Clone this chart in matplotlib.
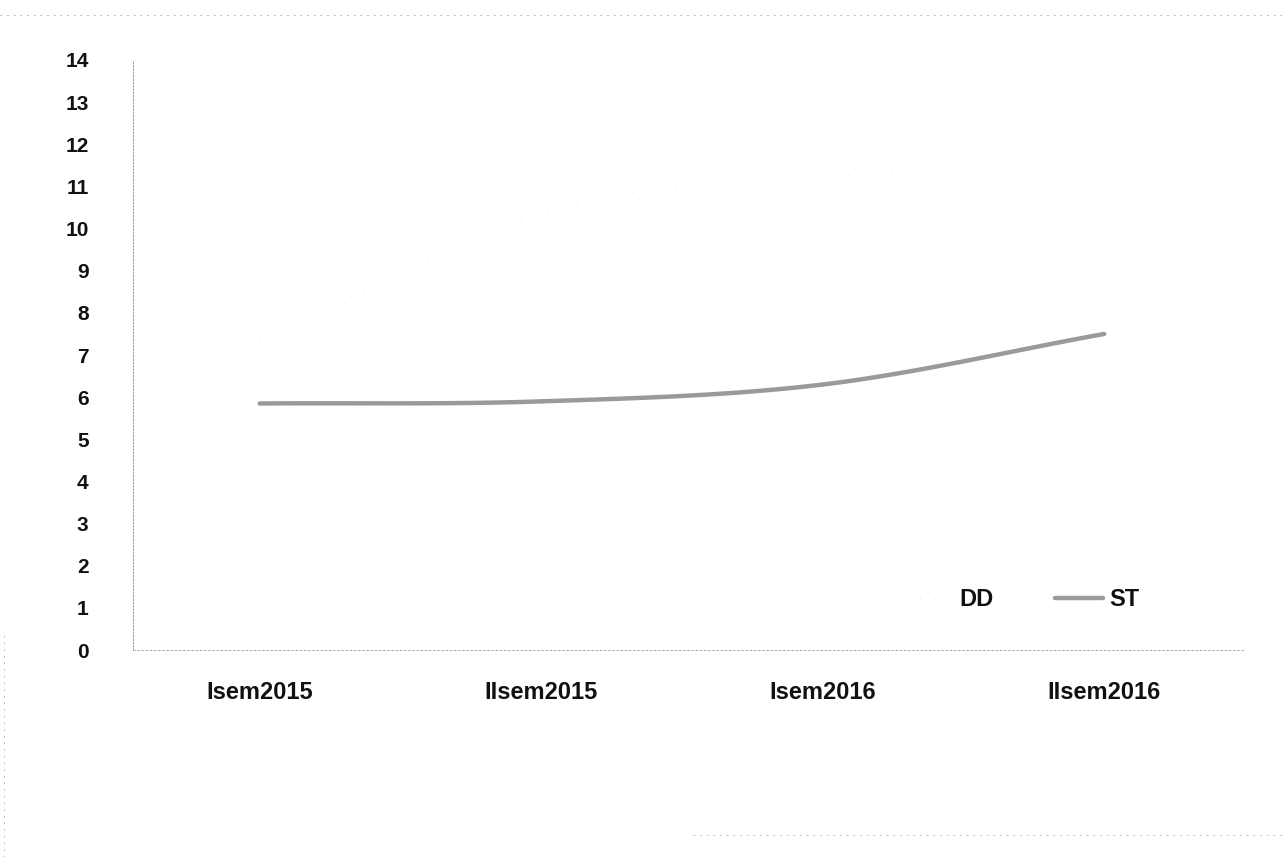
import numpy as np
import matplotlib.pyplot as plt
from matplotlib.lines import Line2D

# Data
categories = ['Isem2015', 'IIsem2015', 'Isem2016', 'IIsem2016']
dd_values = [7.3, 10.4, 11.2, 11.7]
st_values = [5.85, 5.9, 6.3, 7.5]


def smooth(y, n=40):
    # Catmull-Rom curve through the points (like Excel's smoothed line)
    y = np.asarray(y, dtype=float)
    x = np.arange(len(y), dtype=float)
    px = np.concatenate([[2 * x[0] - x[1]], x, [2 * x[-1] - x[-2]]])
    py = np.concatenate([[2 * y[0] - y[1]], y, [2 * y[-1] - y[-2]]])
    xs, ys = [], []
    for i in range(1, len(px) - 2):
        t = np.linspace(0, 1, n)
        for arr, out in ((px, xs), (py, ys)):
            p0, p1, p2, p3 = arr[i - 1], arr[i], arr[i + 1], arr[i + 2]
            out.append(0.5 * ((2 * p1) + (-p0 + p2) * t
                              + (2 * p0 - 5 * p1 + 4 * p2 - p3) * t ** 2
                              + (-p0 + 3 * p1 - 3 * p2 + p3) * t ** 3))
    return np.concatenate(xs), np.concatenate(ys)


plt.rcParams['font.family'] = ['Liberation Sans', 'DejaVu Sans']

fig = plt.figure(figsize=(12.84, 8.57), dpi=100)
ax = fig.add_axes([0.1036, 0.2415, 0.866, 0.6885])

x_dd, y_dd = smooth(dd_values)
x_st, y_st = smooth(st_values)

ax.plot(x_dd, y_dd, color='#e6e6e6', lw=0.8, ls=(0, (1, 12)), label='DD')
ax.plot(x_st, y_st, color='#9a9a9a', lw=3.2, solid_capstyle='round', label='ST')

ax.set_xlim(-0.45, 3.5)
ax.set_ylim(0, 14)
ax.set_yticks(range(0, 15))
ax.set_xticks(range(len(categories)))
ax.set_xticklabels(categories, fontsize=17, fontweight='bold', color='#111111')
for lbl in ax.get_yticklabels():
    lbl.set_fontweight('bold')
ax.tick_params(axis='y', labelsize=15, length=0, pad=32, colors='#111111')
ax.tick_params(axis='x', length=0, pad=22)

for side in ['top', 'right']:
    ax.spines[side].set_visible(False)
ax.spines['left'].set_color('#888888')
ax.spines['left'].set_linewidth(0.6)
ax.spines['left'].set_linestyle((0, (2, 2)))
ax.spines['bottom'].set_color('#9a9a9a')
ax.spines['bottom'].set_linewidth(0.6)
ax.spines['bottom'].set_linestyle((0, (2, 3)))

leg = ax.legend(loc='center', bbox_to_anchor=(0.80, 0.085), ncol=2, frameon=False,
                handlelength=2.0, handletextpad=0.3, columnspacing=2.6,
                prop={'size': 17, 'weight': 'bold'})
for txt in leg.get_texts():
    txt.set_color('#111111')

# faint scan border marks
fig.add_artist(Line2D([0.0, 1.0], [0.982, 0.982], color='#aaaaaa', lw=0.6,
                      ls=(0, (2, 6)), transform=fig.transFigure))
fig.add_artist(Line2D([0.003, 0.003], [0.0, 0.26], color='#aaaaaa', lw=0.6,
                      ls=(0, (2, 6)), transform=fig.transFigure))
fig.add_artist(Line2D([0.54, 1.0], [0.026, 0.026], color='#aaaaaa', lw=0.6,
                      ls=(0, (2, 6)), transform=fig.transFigure))

fig.savefig('out.png', dpi=100, facecolor='white')
